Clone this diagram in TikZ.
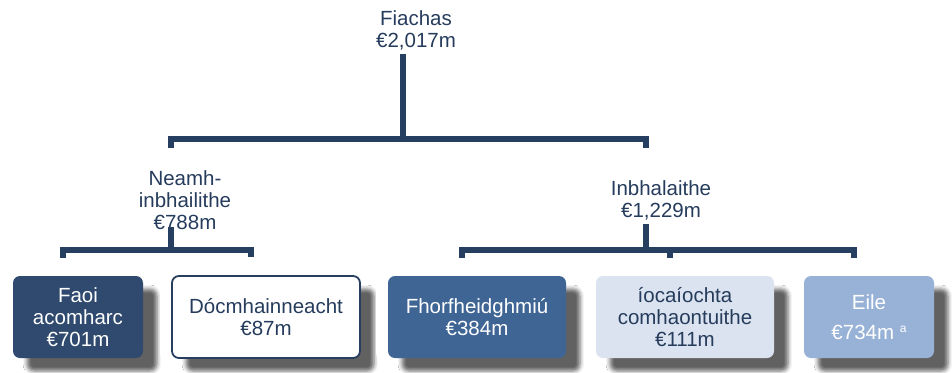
\documentclass[tikz,border=0pt]{standalone}
\usepackage{fontspec}
\setmainfont{Liberation Sans}
\usetikzlibrary{positioning,shadows.blur}
\definecolor{debtInk}{RGB}{38,60,92}
\definecolor{debtLine}{RGB}{38,62,96}
\definecolor{debtBoxA}{RGB}{47,74,110}
\definecolor{debtBoxC}{RGB}{63,101,149}
\definecolor{debtBoxD}{RGB}{218,227,239}
\definecolor{debtBoxE}{RGB}{151,178,214}

\tikzset{
  sumtext/.style={text=debtInk, align=center, inner sep=0pt, font=\fontsize{20.5}{22}\selectfont},
  branch/.style={draw=debtLine, line width=6pt, line join=miter},
  debtbox/.style={rounded corners=7pt, minimum height=82pt, inner sep=0pt, align=center,
    font=\fontsize{20.5}{22}\selectfont,
    preaction={draw=white, line width=24pt},
    blur shadow={shadow xshift=14pt, shadow yshift=-13pt, shadow blur radius=4pt, shadow opacity=62}}
}

\begin{document}
\begin{tikzpicture}[x=1pt, y=-1pt]
    \useasboundingbox (0,0) rectangle (952,372);

    % Totals
    \node[sumtext] (debt) at (416,30) {Fiachas\\€2,017m};
    \node[sumtext] (nonavail) at (185,200) {Neamh-\\inbhailithe\\€788m};
    \node[sumtext] (avail) at (661,200) {Inbhalaithe\\€1,229m};

    % Boxes
    \node[debtbox, fill=debtBoxA, text=white, minimum width=130pt] (faoi) at (78,317) {Faoi\\acomharc\\€701m};
    \node[debtbox, fill=white, draw=debtLine, line width=1.8pt, text=debtInk, minimum width=188pt] (docm) at (266,317) {Dócmhainneacht\\€87m};
    \node[debtbox, fill=debtBoxC, text=white, minimum width=178pt] (forf) at (477,317) {Fhorfheidghmiú\\€384m};
    \node[debtbox, fill=debtBoxD, text=debtInk, minimum width=178pt] (ioc) at (685,317) {íocaíochta\\comhaontuithe\\€111m};
    \node[debtbox, fill=debtBoxE, text=white, minimum width=130pt] (eile) at (869,317) {Eile\\[8pt]€734m {\fontsize{12}{12}\selectfont\raisebox{7pt}{a}}};

    % Bars
    \coordinate (debtBar) at (403,139);
    \coordinate (nonBar) at (171,250);
    \coordinate (availBar) at (646,250);

    \draw[branch] ([yshift=-4pt]debt.south -| debtBar) -- (debtBar);
    \draw[branch] ([yshift=-9pt]debtBar -| nonBar) |- (debtBar) -| ([yshift=-9pt]debtBar -| availBar);

    \draw[branch] ([yshift=3pt]nonavail.south -| nonBar) -- (nonBar);
    \draw[branch] ([shift={(-15pt,18pt)}]faoi.north) |- (nonBar) -| ([shift={(-15pt,18pt)}]docm.north);

    \draw[branch] ([yshift=-4pt]avail.south -| availBar) -- (availBar);
    \draw[branch] ([shift={(-15pt,18pt)}]forf.north) |- (availBar) -| ([shift={(-15pt,18pt)}]eile.north);
    \draw[branch] ([shift={(-15pt,18pt)}]ioc.north) coordinate (iocFoot) -- (iocFoot |- availBar);
\end{tikzpicture}
\end{document}
